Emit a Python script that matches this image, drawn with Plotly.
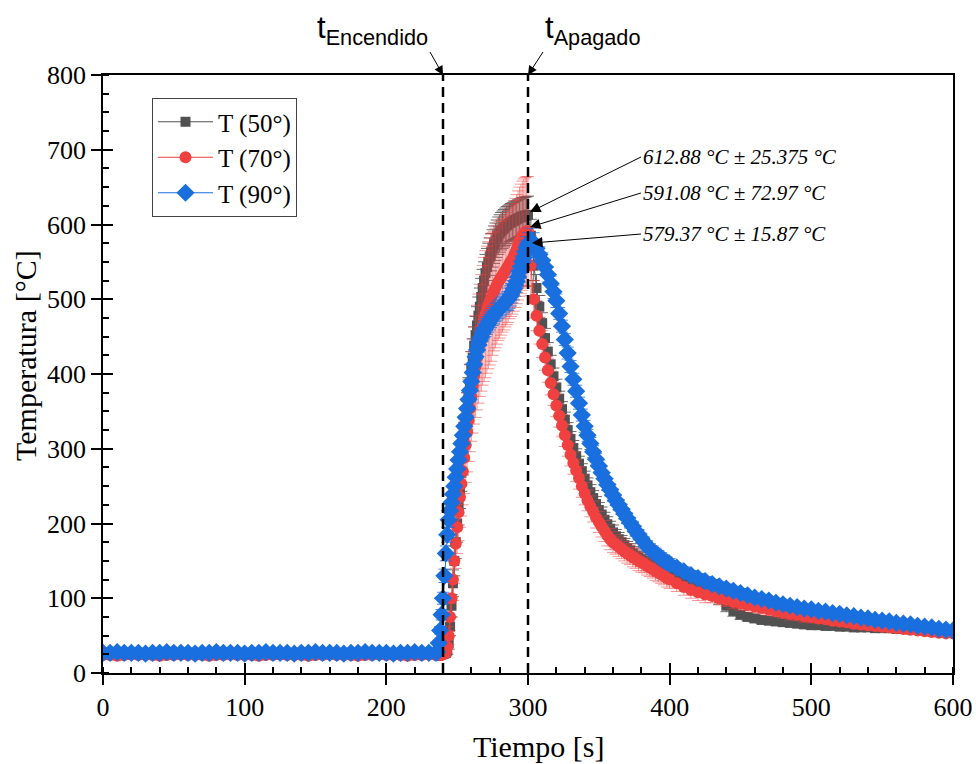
import plotly.graph_objects as go

# ---------------- data ----------------
t_flat = list(range(0, 240, 5))          # 0..235   (48)
t_rise = list(range(236, 301, 1))        # 236..300 (65)
t_fall = list(range(302, 401, 2))        # 302..400 (50)
t_tail = list(range(405, 601, 5))        # 405..600 (40)
tiempo = t_flat + t_rise + t_fall + t_tail

T50_flat = [26, 26, 25, 26, 26, 27, 26, 26, 25, 26, 26, 26, 27, 26, 26, 25, 26, 26, 26, 26,
            27, 26, 26, 25, 26, 26, 26, 26, 27, 26, 26, 26, 25, 26, 26, 26, 27, 26, 26, 25,
            26, 26, 26, 26, 27, 26, 26, 26]
T70_flat = [24, 24, 23, 24, 25, 24, 24, 24, 23, 24, 24, 25, 24, 24, 24, 23, 24, 24, 25, 24,
            24, 24, 23, 24, 24, 25, 24, 24, 24, 23, 24, 24, 25, 24, 24, 24, 23, 24, 24, 25,
            24, 24, 24, 23, 24, 24, 25, 24]
T90_flat = [27, 27, 28, 27, 27, 27, 26, 27, 27, 28, 27, 27, 27, 26, 27, 27, 28, 27, 27, 27,
            26, 27, 27, 28, 27, 27, 27, 26, 27, 27, 28, 27, 27, 27, 26, 27, 27, 28, 27, 27,
            27, 26, 27, 27, 28, 27, 27, 27]

T50_rise = [26, 26, 26, 26, 26, 26, 27, 30, 40, 62,
            90, 120, 150, 175, 200, 223, 245, 268, 290, 310,
            330, 350, 370, 388, 405, 422, 438, 452, 465, 478,
            490, 503, 515, 525, 535, 543, 550, 557, 563, 568,
            573, 577, 581, 585, 588, 591, 593, 595, 597, 599,
            600, 602, 603, 604, 605, 606, 607, 608, 609, 610,
            611, 611, 612, 612, 613]
T70_rise = [24, 24, 24, 24, 25, 26, 28, 35, 50, 75,
            100, 125, 150, 173, 195, 215, 235, 253, 270, 288,
            305, 322, 338, 354, 370, 384, 398, 410, 422, 434,
            445, 455, 465, 473, 480, 486, 492, 497, 502, 507,
            511, 515, 519, 523, 526, 529, 532, 535, 538, 541,
            544, 548, 551, 554, 558, 562, 567, 572, 577, 581,
            585, 588, 590, 591, 591]
T90_rise = [28, 40, 57, 78, 100, 130, 160, 185, 205, 217,
            228, 239, 250, 262, 273, 285, 296, 307, 318, 330,
            342, 354, 366, 378, 390, 402, 413, 423, 432, 439,
            445, 450, 455, 459, 462, 465, 468, 471, 474, 477,
            479, 482, 484, 486, 488, 490, 492, 494, 496, 498,
            500, 503, 506, 510, 514, 519, 524, 530, 537, 543,
            550, 556, 563, 569, 574]

T50_fall = [585, 545, 515, 490, 468, 448, 430, 413, 397, 382,
            367, 353, 339, 325, 313, 301, 290, 280, 270, 260,
            251, 242, 234, 226, 218, 212, 205, 199, 193, 188,
            183, 179, 175, 171, 167, 164, 160, 157, 154, 152,
            150, 148, 146, 144, 142, 140, 138, 136, 134, 133]
T70_fall = [545, 500, 478, 458, 440, 422, 405, 388, 373, 358,
            344, 331, 318, 305, 292, 281, 271, 261, 250, 240,
            231, 223, 216, 208, 202, 196, 190, 184, 179, 175,
            172, 169, 166, 163, 160, 158, 155, 153, 150, 148,
            146, 143, 141, 139, 136, 134, 132, 130, 127, 125]
T90_fall = [579, 575, 568, 560, 552, 543, 533, 521, 510, 498,
            481, 464, 446, 428, 410, 393, 377, 361, 345, 330,
            318, 307, 296, 286, 277, 268, 260, 252, 245, 238,
            231, 225, 219, 213, 207, 201, 196, 190, 185, 180,
            175, 170, 166, 163, 160, 157, 154, 151, 148, 146]

T50_tail = [129, 125, 121, 117, 113, 108, 100, 90, 83, 78,
            75, 73, 71, 70, 69, 68, 67, 66, 65, 64,
            64, 63, 63, 62, 62, 61, 61, 61, 60, 60,
            60, 59, 59, 58, 58, 57, 57, 56, 56, 55]
T70_tail = [120, 115, 111, 108, 105, 103, 100, 98, 95, 93,
            91, 89, 87, 85, 83, 81, 79, 78, 76, 75,
            73, 72, 70, 69, 68, 66, 65, 64, 63, 62,
            61, 60, 59, 58, 57, 56, 55, 54, 53, 53]
T90_tail = [141, 136, 131, 127, 123, 119, 116, 113, 110, 107,
            104, 101, 99, 97, 94, 92, 90, 88, 86, 85,
            83, 82, 80, 79, 77, 76, 74, 73, 71, 70,
            69, 67, 66, 65, 63, 62, 61, 59, 58, 57]

# standard deviations (error bars)
E50 = ([3] * 48
       + [2] * 6 + [3, 5, 8, 12, 15, 18, 20, 22, 25, 25] + [25] * 49
       + [22, 20, 18, 15, 14, 13, 12, 12, 11, 11] + [10] * 20 + [9] * 10 + [8] * 10
       + [7, 7, 7, 7, 6, 6, 8, 8, 7, 6] + [5] * 10 + [4] * 10 + [3] * 10)
E70 = ([6] * 48
       + [5] * 6
       + [6, 8, 12, 18, 25, 28, 30, 33, 35, 38, 40, 43, 45, 48, 50, 53, 55, 58, 60, 63,
          65, 68, 70, 73, 75, 78, 80, 83, 85, 85, 85, 85, 85, 82, 80, 80, 79, 78, 78, 77,
          76, 76, 75, 75, 75, 74, 74, 74, 74, 73, 73, 73, 73, 73, 73, 73, 73, 73, 73]
       + [40, 25, 20, 18, 18, 17, 16, 16, 15, 15] + [15] * 10 + [14] * 10 + [13] * 10 + [12] * 10
       + [11] * 5 + [9] * 5 + [8] * 10 + [6] * 10 + [5] * 10)
E90 = ([2] * 48
       + [3, 4, 5, 7, 8, 9, 10, 10, 10, 10] + [10] * 20 + [12] * 20 + [15] * 15
       + [16, 14, 12, 10, 10, 10, 10, 10, 9, 9] + [8] * 20 + [7] * 20
       + [6] * 10 + [5] * 15 + [4] * 15)

T50 = T50_flat + T50_rise + T50_fall + T50_tail
T70 = T70_flat + T70_rise + T70_fall + T70_tail
T90 = T90_flat + T90_rise + T90_fall + T90_tail
for arr in (T50, T70, T90, E50, E70, E90):
    assert len(arr) == len(tiempo), len(arr)

series_names = ["T (50°)", "T (70°)", "T (90°)"]
peaks = ["612.88 °C ± 25.375 °C", "591.08 °C ± 72.97 °C", "579.37 °C ± 15.87 °C"]
peak_points = [(301.4, 616.7), (301.4, 596.6), (302.8, 575.2)]
events = [(240, "t<sub>Encendido</sub>"), (300, "t<sub>Apagado</sub>")]
x_title = "Tiempo [s]"
y_title = "Temperatura [°C]"

# ---------------- figure ----------------
SERIF = "Liberation Serif, Times New Roman, serif"
SANS = "Liberation Sans, Arial, sans-serif"
W, H = 976, 764
L, T, R, B = 103, 75, 23, 91
PX0, PY0, PW, PH = L, T, W - L - R, H - T - B   # 850 x 598


def px_to_paper(px, py):
    return (px - PX0) / PW, (PY0 + PH - py) / PH


fig = go.Figure()
styles = [
    dict(color="#515151", symbol="square", size=10, err="rgba(81,81,81,0.85)"),
    dict(color="#F14040", symbol="circle", size=12, err="rgba(241,64,64,0.55)"),
    dict(color="#1A6FDF", symbol="diamond", size=14, err="rgba(26,111,223,0.8)"),
]
for name, vals, errs, st in zip(series_names, (T50, T70, T90), (E50, E70, E90), styles):
    fig.add_trace(go.Scatter(
        x=tiempo, y=vals, name=name, mode="lines+markers",
        line=dict(color=st["color"], width=1),
        marker=dict(color=st["color"], symbol=st["symbol"], size=st["size"], line=dict(width=0)),
        error_y=dict(type="data", array=errs, visible=True, color=st["err"], thickness=1, width=6),
    ))

# dashed event lines
for xv, _ in events:
    fig.add_shape(type="line", x0=xv, x1=xv, y0=0, y1=800, xref="x", yref="y",
                  line=dict(color="black", width=2.5, dash="10px,6px"), layer="above")

# event labels with arrows (tail at a corner of the label box)
for (xv, lab), anchor, tail in zip(events, ("right", "left"), ((430, 52), (543, 52))):
    hx = PX0 + xv * PW / 600
    fig.add_annotation(x=xv, y=800, xref="x", yref="y", text=lab, showarrow=True,
                       ax=tail[0] - hx, ay=tail[1] - PY0, xanchor=anchor, yanchor="bottom",
                       font=dict(family=SANS, size=31, color="black"),
                       arrowhead=2, arrowsize=1.8, arrowwidth=1, arrowcolor="black")

# peak annotations
text_y_px = [157, 193, 234]
for (px_, py_), txt, ty in zip(peak_points, peaks, text_y_px):
    hx = PX0 + px_ * PW / 600
    hy = PY0 + PH - py_ * PH / 800
    fig.add_annotation(x=px_, y=py_, xref="x", yref="y", text="<i>" + txt + "</i>",
                       showarrow=True, ax=641 - hx, ay=ty - hy, xanchor="left", yanchor="middle",
                       font=dict(family=SERIF, size=21, color="black"),
                       arrowhead=2, arrowsize=2.1, arrowwidth=1, arrowcolor="black")

# axis titles (placed like the reference)
xt = px_to_paper(538, 746)
fig.add_annotation(x=xt[0], y=xt[1], xref="paper", yref="paper", text=x_title, showarrow=False,
                   xanchor="center", yanchor="middle", font=dict(family=SERIF, size=30, color="black"))
yt = px_to_paper(25, 356)
fig.add_annotation(x=yt[0], y=yt[1], xref="paper", yref="paper", text=y_title, showarrow=False,
                   textangle=-90, xanchor="center", yanchor="middle",
                   font=dict(family=SERIF, size=30, color="black"))

axis_common = dict(showline=True, linecolor="black", linewidth=1.5, mirror=True,
                   showgrid=False, zeroline=False, tickcolor="black", tickwidth=1.5,
                   automargin=False,
                   tickfont=dict(family=SERIF, size=26, color="black"))
overlay_common = dict(ticks="inside", ticklen=10, tickcolor="black", tickwidth=1.5,
                      showticklabels=False, showgrid=False, zeroline=False, showline=False,
                      automargin=False)
fig.update_layout(
    width=W, height=H,
    margin=dict(l=L, r=R, t=T, b=B, autoexpand=False),
    paper_bgcolor="white", plot_bgcolor="white",
    font=dict(family=SERIF, color="black"),
    xaxis=dict(range=[0, 600], dtick=100, tick0=0, ticks="outside", ticklen=10,
               minor=dict(dtick=20, ticks="inside", ticklen=6, tickcolor="black", tickwidth=1.5),
               **axis_common),
    yaxis=dict(range=[0, 800], dtick=100, tick0=0, ticks="outside", ticklen=10,
               minor=dict(dtick=25, ticks="inside", ticklen=6, tickcolor="black", tickwidth=1.5),
               **axis_common),
    xaxis2=dict(range=[0, 600], overlaying="x", anchor="y", side="bottom", dtick=100, tick0=0,
                **overlay_common),
    yaxis2=dict(range=[0, 800], overlaying="y", anchor="x", side="left", dtick=100, tick0=0,
                **overlay_common),
    legend=dict(x=(152 - PX0) / PW, y=(PY0 + PH - 98) / PH, xanchor="left", yanchor="top",
                bgcolor="white", bordercolor="#444444", borderwidth=1,
                font=dict(family=SERIF, size=25, color="black"), tracegroupgap=0,
                itemwidth=55),
    showlegend=True,
)
# invisible trace to activate the overlay axes
fig.add_trace(go.Scatter(x=[0], y=[0], xaxis="x2", yaxis="y2", mode="markers",
                         marker=dict(opacity=0), showlegend=False, hoverinfo="skip"))

# remove the default page margin so the 976x764 figure fills the window exactly
fig.write_html("out.html", config={"displayModeBar": False},
               post_script="document.body.style.margin='0';document.body.style.overflow='hidden';")
